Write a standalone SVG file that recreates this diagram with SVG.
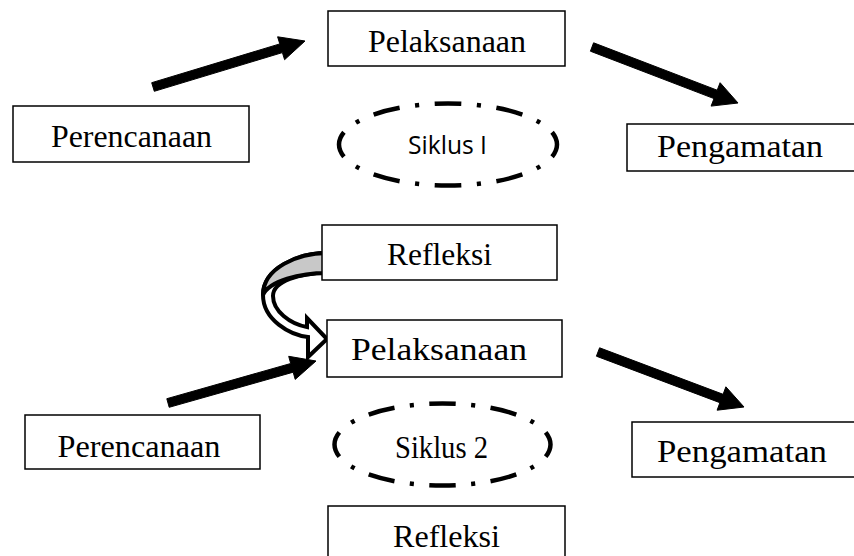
<svg xmlns="http://www.w3.org/2000/svg" width="854" height="556" viewBox="0 0 854 556">
<style>
.box{fill:#fff;stroke:#000;stroke-width:1.5}
.t{font-family:"Liberation Serif","Times New Roman",serif;font-size:31px;fill:#000;text-anchor:middle}
.ts{font-family:"Open Sans","Liberation Sans",sans-serif;font-size:26px;fill:#000;text-anchor:middle}
.cyc{fill:none;stroke:#000;stroke-width:4.5;stroke-dasharray:26 15 4 15;stroke-dashoffset:13}
.arr{fill:#000;stroke:#000;stroke-width:1;stroke-linejoin:miter}
.bend{stroke:#000;stroke-width:4;stroke-linejoin:miter}
</style>
<rect width="854" height="556" fill="#fff"/>
<g id="connectors">
<polygon class="arr" points="154.3,91.3 282.4,52.6 284.6,59.7 305,41 277.6,36.8 279.8,43.9 151.7,82.7"/>
<polygon class="arr" points="590.4,51.2 714.0,98.6 711.1,106.1 738,103 720.1,82.7 717.2,90.2 593.6,42.8"/>
<polygon class="arr" points="169.2,407.3 293.2,372.2 295.2,379.4 316,361 288.7,356.3 290.7,363.5 166.8,398.7"/>
<polygon class="arr" points="596.4,356.2 719.9,402.7 717.1,410.2 744,407 725.9,386.8 723.1,394.3 599.6,347.8"/>
<g id="curved-arrow">
<path class="bend" fill="#fff" d="M327,253 C298,253 263,268 263,295 C263,320 290,335 308,337 L308,357 L327,339 L307,318 L307,327 C290,324 273,311 273,296 C273,281 300,273 327,273 Z"/>
<path class="bend" fill="#c8c8c8" d="M327,253 C298,253 263,268 263,295 C269,281 300,273 327,273 Z"/>
</g>
</g>
<g id="pelaksanaan1"><rect class="box" x="328" y="11" width="237" height="55"/><text class="t" x="447" y="52" textLength="158" lengthAdjust="spacingAndGlyphs">Pelaksanaan</text></g>
<g id="perencanaan1"><rect class="box" x="13" y="106" width="236" height="56"/><text class="t" x="131.5" y="147" textLength="161" lengthAdjust="spacingAndGlyphs">Perencanaan</text></g>
<g id="pengamatan1"><rect class="box" x="627" y="124" width="240" height="47"/><text class="t" x="740" y="157" textLength="166" lengthAdjust="spacingAndGlyphs">Pengamatan</text></g>
<g id="siklus1"><ellipse class="cyc" cx="448" cy="144.5" rx="109" ry="41" pathLength="480"/><text class="ts" x="447.5" y="154" textLength="79" lengthAdjust="spacingAndGlyphs">Siklus I</text></g>
<g id="refleksi1"><rect class="box" x="322" y="225" width="235" height="55"/><text class="t" x="439.5" y="265" textLength="105" lengthAdjust="spacingAndGlyphs">Refleksi</text></g>
<g id="pelaksanaan2"><rect class="box" x="327" y="320" width="235" height="57"/><text class="t" x="439" y="360" textLength="176" lengthAdjust="spacingAndGlyphs">Pelaksanaan</text></g>
<g id="perencanaan2"><rect class="box" x="25" y="415" width="235" height="54"/><text class="t" x="139" y="457" textLength="163" lengthAdjust="spacingAndGlyphs">Perencanaan</text></g>
<g id="pengamatan2"><rect class="box" x="632" y="422" width="240" height="55"/><text class="t" x="742" y="462" textLength="170" lengthAdjust="spacingAndGlyphs">Pengamatan</text></g>
<g id="siklus2"><ellipse class="cyc" cx="442.5" cy="444.5" rx="108" ry="41" pathLength="480"/><text class="t" x="441.5" y="458" textLength="93" lengthAdjust="spacingAndGlyphs">Siklus 2</text></g>
<g id="refleksi2"><rect class="box" x="328" y="506" width="237" height="60"/><text class="t" x="446.5" y="547" textLength="107" lengthAdjust="spacingAndGlyphs">Refleksi</text></g>
</svg>
